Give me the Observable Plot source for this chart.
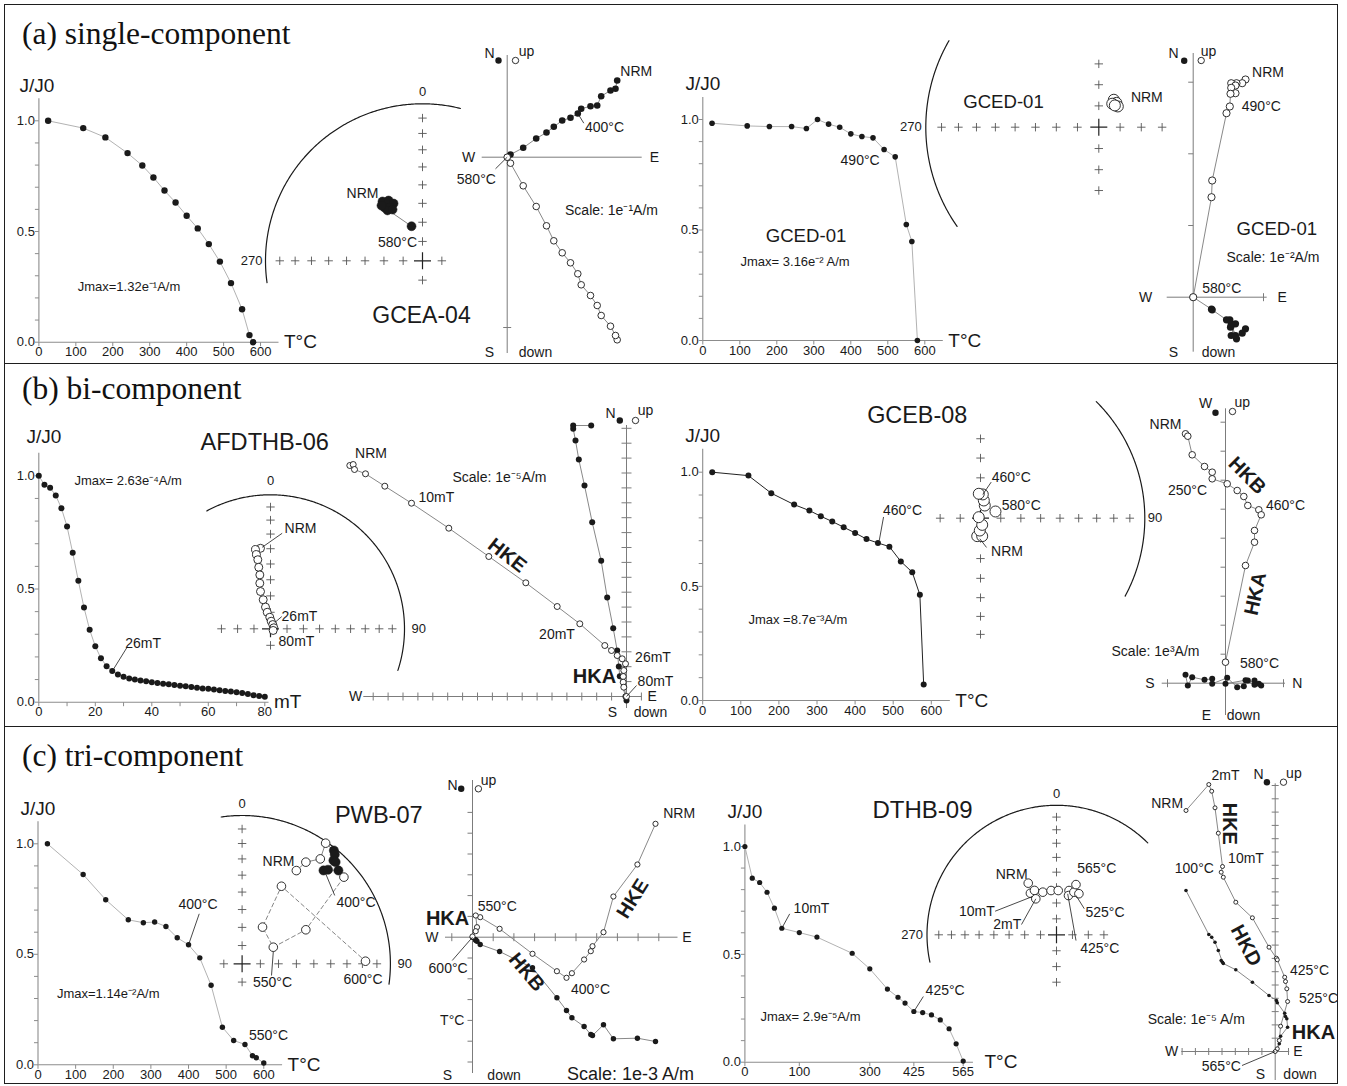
<!DOCTYPE html>
<html>
<head>
<meta charset="utf-8">
<script src="https://cdn.jsdelivr.net/npm/d3@7"></script>
<script src="https://cdn.jsdelivr.net/npm/@observablehq/plot@0.6"></script>
<style>
  html, body { margin: 0; padding: 0; background: #fff; }
  #fig { position: relative; width: 1347px; height: 1086px; overflow: hidden; background: #fff; }
  #fig svg { position: absolute; left: 0; top: 0; background: transparent !important; overflow: visible; max-width: none !important; }
  .box { position: absolute; border: 1.4px solid #1e1e1e; box-sizing: border-box; }
  .rowtitle { position: absolute; left: 22px; font-family: "Liberation Serif", "Times New Roman", serif; font-size: 31.5px; line-height: 1; color: #111; white-space: nowrap; }
</style>
</head>
<body>
<div id="fig">
  <div class="box" style="left:4px;top:4px;width:1334px;height:360px"></div>
  <div class="box" style="left:4px;top:363px;width:1334px;height:364px"></div>
  <div class="box" style="left:4px;top:726px;width:1334px;height:358px"></div>
  <div class="rowtitle" style="top:18px">(a) single-component</div>
  <div class="rowtitle" style="top:373px">(b) bi-component</div>
  <div class="rowtitle" style="top:740px">(c) tri-component</div>
</div>
<script>
// ===================== DATA =====================
// tick labels
const tempTickLabels = [0, 100, 200, 300, 400, 500, 600];
const afTickLabels = [0, 20, 40, 60, 80];
const afTicks = [0, 10, 20, 30, 40, 50, 60, 70, 80];
const jTickLabels = [0, 0.5, 1.0];
const jMinorTicks = [0, 0.1, 0.2, 0.3, 0.4, 0.5, 0.6, 0.7, 0.8, 0.9, 1.0];
const dthb09TickLabels = [0, 100, 300, 425, 565];

// (a) GCEA-04 : thermal demagnetisation
const gcea04Temp = [25, 120, 180, 240, 280, 310, 340, 370, 400, 430, 460, 490, 520, 550, 570, 580];
const gcea04J = [1.0, 0.967, 0.925, 0.854, 0.798, 0.744, 0.685, 0.631, 0.571, 0.514, 0.443, 0.364, 0.267, 0.149, 0.032, 0.0];
const gcea04NetDec = [326.0, 330.6, 333.2, 324.5, 329.0, 325.2, 329.7, 323.4, 342.4];
const gcea04NetInc = [52.4, 53.7, 56.4, 55.7, 57.5, 57.9, 59.0, 53.9, 71.2];
// orthogonal-projection components (plot units)
const gcea04E = [110, 108.3, 103.3, 94, 90, 83.3, 74, 70.6, 63.3, 55, 46.6, 39.3, 29, 16, 3.3, 0];
const gcea04N = [76.7, 68.4, 66.7, 61, 51.7, 51, 48.4, 43.7, 39.4, 36.7, 30.4, 24.7, 18.7, 9.4, 2.7, 0];
const gcea04Up = [-182.6, -178.3, -169, -158.3, -148.3, -138.3, -127.6, -116.6, -105.6, -95.6, -83.6, -68.6, -49.3, -28.6, -6, 0];

// (a) GCED-01
const gced01Temp = [25, 120, 180, 240, 280, 310, 340, 370, 400, 430, 460, 490, 520, 550, 565, 580];
const gced01J = [0.983, 0.971, 0.968, 0.968, 0.959, 1.0, 0.979, 0.965, 0.935, 0.923, 0.917, 0.864, 0.831, 0.525, 0.448, 0.0];
const gced01NetDec = [28.7, 35.9, 29.8, 42.5, 36.4];
const gced01NetInc = [-75.3, -75.9, -77.3, -76.8, -77.3];
const gced01E = [52.3, 49, 43.3, 38, 42.3, 38, 42.3, 37.3, 36.6, 33.3, 19, 18.3, 0];
const gced01Up = [217.7, 214, 214, 214, 211.7, 209.4, 204, 203.4, 190.7, 184, 116.7, 100, 0];
const gced01N = [-31.6, -36, -41.6, -38.3, -26.6, -26.6, -38.3, -30, -22.6, -22.6, -12.6, -12, 0];

// (b) AFDTHB-06 : AF demagnetisation
const afdthb06Field = [0, 2, 4, 6, 8, 10, 12, 14, 16, 18, 20, 22, 24, 26, 28, 30, 32, 34, 36, 38, 40, 42, 44, 46, 48, 50, 52, 54, 56, 58, 60, 62, 64, 66, 68, 70, 72, 74, 76, 78, 80];
const afdthb06J = [1.0, 0.96, 0.947, 0.913, 0.857, 0.776, 0.66, 0.536, 0.418, 0.32, 0.247, 0.194, 0.159, 0.138, 0.122, 0.112, 0.105, 0.1, 0.096, 0.092, 0.088, 0.085, 0.082, 0.079, 0.076, 0.073, 0.07, 0.067, 0.064, 0.061, 0.059, 0.056, 0.053, 0.05, 0.047, 0.044, 0.041, 0.036, 0.031, 0.027, 0.024];
const afdthb06NetDec = [352.9, 349.3, 349.3, 349.6, 349.2, 348.8, 346.8, 345, 345.9, 347, 348.8, 356.5, 5.3, 28, 73, 122];
const afdthb06NetInc = [-39.3, -39.6, -43.0, -46.5, -51.4, -56.3, -61.4, -66.5, -71.8, -76.5, -79.8, -83.0, -85.4, -87.1, -87.9, -88.1];
const afdthb06HorE = [-35.3, -53.3, -53.3, -51, -47.7, -42, -34.3, -25.3, -19.3, -13.3, -9.3, -7.7, -6.7, -1, 0];
const afdthb06HorN = [271, 271, 267.7, 256, 237, 211, 174.3, 135.7, 99, 68.3, 46, 30, 20.3, 0, -4];
const afdthb06VerH = [-276.7, -273.3, -272, -261, -241.7, -215, -177.7, -137.7, -100.7, -69.3, -46.7, -21.7, -15, -9.3, -4.3, -1, -2.7, -3.3, -3.3, -2.7, 0];
const afdthb06VerUp = [231, 232, 227, 222.7, 210.3, 193.3, 168.3, 140, 113.7, 90, 72.7, 51, 46, 41, 37.7, 32.7, 26, 20, 14.3, 9.3, 0];

// (b) GCEB-08
const gceb08Temp = [25, 120, 180, 240, 280, 310, 340, 370, 400, 430, 460, 490, 520, 550, 570, 580];
const gceb08J = [1.0, 0.985, 0.908, 0.858, 0.832, 0.807, 0.784, 0.759, 0.734, 0.707, 0.69, 0.674, 0.609, 0.562, 0.463, 0.07];
const gceb08NetDec = [190.4, 174.6, 183.3, 165.6, 300, 18.7, 10.6, 5.5, 356, 65.9];
const gceb08NetInc = [-81.0, -81.1, -83.9, -86.6, -89.0, -83.4, -81.1, -78.2, -77.9, -81.9];
const gceb08N = [-40, -37.7, -33.3, -21, -13.3, -13.3, 1.7, 11.7, 18.3, 22.3, 33.3, 35.7, 29, 29, 20, 0];
const gceb08Up = [249.4, 247, 228.4, 216.7, 211, 204.4, 199.4, 192.7, 186.7, 177.7, 173.4, 168.4, 152.7, 141, 117.7, 21];
const gceb08W = [8.4, -2.3, 6, 3.4, 4.4, -0.6, 5.4, -4, -3, 2.7, -0.6, -2.3, 2.7, -1.5, 3, -0.6];

// (c) PWB-07
const pwb07Temp = [25, 120, 180, 240, 280, 310, 340, 370, 400, 430, 460, 490, 520, 550, 570, 580, 600];
const pwb07J = [1.0, 0.861, 0.747, 0.656, 0.643, 0.646, 0.626, 0.575, 0.543, 0.484, 0.360, 0.170, 0.110, 0.092, 0.041, 0.032, 0.008];
const pwb07NetDec = [30.2, 32.1, 36.7, 34.7, 39, 40.3, 41.5, 42.6, 41.1, 42.4, 45.9, 49.6, 61.9, 62, 29.1, 26.9, 88.8];
const pwb07NetInc = [-28.1, -20.2, -12.8, -1.2, 1.9, 3.8, 7.8, 7.6, 17.6, 15.2, 10.5, -10.8, -49.7, -70.6, -66.9, -41.0, -17.9];
const pwb07E = [183, 164.9, 140.9, 131, 120, 118.3, 111.6, 99.4, 94, 84.4, 60, 27.1, 7.7, 3.2, 4.5, 3.2, 0];
const pwb07Up = [113.4, 72.7, 40.7, 5, -9, -14, -22.3, -36, -40.6, -34, -16.6, 8.4, 20, 21.7, 10, 6, 0.7];
const pwb07N = [-104.3, -101, -101.6, -87.6, -98.3, -97.3, -89.3, -80.6, -73.3, -60.6, -30.6, -14.3, -7.3, -2.6, -4, -3, 0];

// (c) DTHB-09 : AF (mT) then thermal (°C) steps
const dthb09Step = [0, 2, 4, 6, 8, 10, 100, 150, 250, 300, 350, 380, 400, 425, 450, 475, 500, 525, 545, 565];
const dthb09J = [1.0, 0.853, 0.833, 0.788, 0.714, 0.621, 0.601, 0.580, 0.505, 0.433, 0.339, 0.301, 0.274, 0.235, 0.230, 0.219, 0.196, 0.155, 0.085, 0.005];
const dthb09NetDec = [331.3, 327.9, 333.6, 330.1, 342.2, 353, 2.2, 15.8, 17, 22.2, 28.6, 21.2];
const dthb09NetInc = [-52.5, -58.9, -58.6, -63.8, -61.7, -61.8, -62, -60.9, -64.1, -60.9, -60.4, -55.8];
const dthb09X = [-89.2, -66.4, -63.5, -60.2, -56.9, -52.7, -54, -51.9, -39.4, -22.8, -6.2, 1.2, 2.1, 9.5, 10.3, 11.6, 12.4, 5.4, 4.1, 2.1, 0];
const dthb09Up = [241, 267, 260.3, 243.7, 218.3, 185, 179.3, 174.3, 149.3, 133.7, 104.3, 93.3, 91.7, 74.3, 70, 62.7, 50, 25.3, 11, 2.7, 0];
const dthb09N = [161, 117, 114.3, 109.3, 101, 89.3, 91, 88, 81.7, 69.3, 56, 51, 48.7, 38.3, 35, 32.7, 24.3, 15.3, 7.7, 2.7, 0];

// ===================== HELPERS =====================
const W = 1347, H = 1086;
const INK = "#1a1a1a", AX = "#8c8c8c", AXZ = "#7c7c7c", LINE = "#a9a9a9", ZLINE = "#7a7a7a";
const FONT = "'Liberation Sans', Arial, Helvetica, sans-serif";
const fig = document.getElementById("fig");

function seg(x1, y1, x2, y2) { return {draw(ctx, size) { const l = Math.sqrt(size / Math.PI); ctx.moveTo(x1 * l, y1 * l); ctx.lineTo(x2 * l, y2 * l); }}; }
const symTickL = seg(-1, 0, 0, 0), symTickD = seg(0, 0, 0, 1), symH = seg(-1, 0, 1, 0), symV = seg(0, -1, 0, 1);
const symPlus = {draw(ctx, size) { const l = Math.sqrt(size / Math.PI); ctx.moveTo(-l, 0); ctx.lineTo(l, 0); ctx.moveTo(0, -l); ctx.lineTo(0, l); }};

function panel(xd, xr, yd, yr) {
  return {X: d3.scaleLinear(xd, xr), Y: d3.scaleLinear(yd, yr),
    x: {type: "linear", domain: xd, range: xr, axis: null},
    y: {type: "linear", domain: yd, range: yr, axis: null}};
}
function render(p, marks) {
  const svg = Plot.plot({width: W, height: H, margin: 0, x: p.x, y: p.y,
    style: {background: "transparent", overflow: "visible", fontFamily: FONT}, marks});
  fig.appendChild(svg);
}
function txt(x, y, t, o = {}) { return Plot.text([t], {x, y, text: d => d, fontSize: 14, fill: INK, ...o}); }
function lead(p, x, y, a, b) {
  const X = p.X, Y = p.Y;
  return Plot.link([0], {x1: X.invert(X(x) + a[0]), y1: Y.invert(Y(y) + a[1]), x2: X.invert(X(x) + b[0]), y2: Y.invert(Y(y) + b[1]), stroke: INK, strokeWidth: 0.8});
}
const BOLD = {fontWeight: "bold", fontSize: 20};

// ---- intensity decay plot ----
function demag(c) {
  const p = c.p, rows = c.xs.map((x, i) => ({x, y: c.ys[i]}));
  const marks = [
    Plot.ruleY([0], {x1: 0, x2: c.xEnd, stroke: AX, strokeWidth: 1.1}),
    Plot.ruleX([0], {y1: 0, y2: 1.1, stroke: AX, strokeWidth: 1.1}),
    Plot.dot(jMinorTicks, {x: 0, y: d => d, symbol: symTickL, r: 4, fill: "none", stroke: AX, strokeWidth: 1}),
    Plot.dot(c.xTicks, {x: d => d, y: 0, symbol: symTickD, r: 4, fill: "none", stroke: AX, strokeWidth: 1}),
    Plot.text(jTickLabels, {x: 0, y: d => d, text: d => d.toFixed(1), dx: -4, textAnchor: "end", fontSize: 13, fill: INK}),
    Plot.text(c.xLabels, {x: d => d, y: 0, text: d => String(d), dy: 10, fontSize: 13, fill: INK}),
    Plot.line(rows, {x: "x", y: "y", stroke: c.line, strokeWidth: c.lw ?? 0.9}),
    Plot.dot(rows, {x: "x", y: "y", r: c.r, fill: INK, stroke: "none"}),
    txt(0, 1.1, "J/J0", {dy: c.jdy ?? -13, dx: c.jdx ?? 0, fontSize: 19}),
    txt(c.xEnd, 0, c.unit, {dx: c.udx ?? 5, textAnchor: "start", fontSize: 19})
  ];
  render(p, marks.concat(c.extra ? c.extra(p) : []));
}

// ---- equal-area stereonet ----
function ea(dec, inc) {
  const r = Math.SQRT2 * Math.sin((90 - Math.abs(inc)) * Math.PI / 360), a = dec * Math.PI / 180;
  return {x: r * Math.sin(a), y: r * Math.cos(a)};
}
function net(c) {
  const p = panel([-1, 1], [c.cx - c.R, c.cx + c.R], [-1, 1], [c.cy + c.R, c.cy - c.R]);
  const arc = d3.range(c.arc[0], c.arc[1] + 0.001, 0.5).map(a => ea(a, 0));
  const crosses = [];
  [0, 90, 180, 270].forEach((az, j) => { for (let k = 1; k <= c.arms[j]; k++) crosses.push(ea(az, 90 - 10 * k)); });
  const pts = c.dec.map((d, i) => ({...ea(d, c.inc[i]), down: c.inc[i] >= 0}));
  const marks = [
    Plot.line(arc, {x: "x", y: "y", stroke: INK, strokeWidth: 1.2}),
    Plot.dot(crosses, {x: "x", y: "y", symbol: symPlus, r: 4.2, fill: "none", stroke: "#555", strokeWidth: 0.9}),
    Plot.dot([{x: 0, y: 0}], {x: "x", y: "y", symbol: symPlus, r: 8.5, fill: "none", stroke: "#222", strokeWidth: 1.2})
  ];
  (c.paths || []).forEach(([a, b, dash]) => {
    const o = {x: "x", y: "y", stroke: "#777", strokeWidth: 0.9};
    if (dash) o.strokeDasharray = "4,3";
    marks.push(Plot.line(pts.slice(a, b + 1), o));
  });
  marks.push(Plot.dot(pts.filter(d => d.down), {x: "x", y: "y", r: c.rf ?? c.r, fill: INK, stroke: INK, strokeWidth: 0.5}));
  marks.push(Plot.dot(pts.filter(d => !d.down), {x: "x", y: "y", r: c.r, fill: "white", stroke: INK, strokeWidth: 0.9}));
  if (c.n0 !== undefined) marks.push(txt(0, 1, "0", {dy: c.n0, fontSize: 13}));
  if (c.w270 !== undefined) marks.push(txt(-1, 0, "270", {dx: c.w270, textAnchor: "end", fontSize: 13}));
  if (c.e90 !== undefined) marks.push(txt(1, 0, "90", {dx: c.e90, textAnchor: "start", fontSize: 13}));
  (c.labels || []).forEach(l => {
    const q = pts[l.i];
    marks.push(txt(q.x, q.y, l.t, {dx: l.dx, dy: l.dy, textAnchor: l.anchor || "middle", fontSize: 14}));
    if (l.lead) marks.push(lead(p, q.x, q.y, l.lead[0], l.lead[1]));
  });
  render(p, marks.concat(c.extra ? c.extra(p) : []));
}

// ---- orthogonal (Zijderveld) projection ----
function zij(c) {
  const p = panel([0, 1], [c.ox, c.ox + 1], [0, 1], [c.oy, c.oy - 1]);
  const hor = c.hx.map((x, i) => ({x, y: c.hy[i]}));
  const ver = c.vx.map((x, i) => ({x, y: c.vy[i]}));
  const marks = [
    Plot.ruleY([0], {x1: c.xr[0], x2: c.xr[1], stroke: AXZ, strokeWidth: 1}),
    Plot.ruleX([0], {y1: c.yr[0], y2: c.yr[1], stroke: AXZ, strokeWidth: 1}),
    Plot.dot(c.xt, {x: d => d, y: 0, symbol: symV, r: c.xtl ?? 4, fill: "none", stroke: AXZ, strokeWidth: 1}),
    Plot.dot(c.yt, {x: 0, y: d => d, symbol: c.ytLeft ? symTickL : symH, r: c.ytl ?? 4, fill: "none", stroke: AXZ, strokeWidth: 1}),
    Plot.line(ver, {x: "x", y: "y", stroke: ZLINE, strokeWidth: 0.9}),
    Plot.line(hor, {x: "x", y: "y", stroke: ZLINE, strokeWidth: 0.9}),
    Plot.dot(hor, {x: "x", y: "y", r: c.rh, fill: INK, stroke: "none"}),
    Plot.dot(ver, {x: "x", y: "y", r: c.rv, fill: "white", stroke: INK, strokeWidth: 0.9}),
    Plot.dot([0], {x: c.legend.f[0], y: c.legend.f[1], r: c.rl ?? 3.2, fill: INK, stroke: "none"}),
    Plot.dot([0], {x: c.legend.o[0], y: c.legend.o[1], r: c.rl ?? 3.2, fill: "white", stroke: INK, strokeWidth: 0.9})
  ];
  c.compass.forEach(([t, x, y]) => marks.push(txt(x, y, t, {fontSize: 14})));
  (c.labels || []).forEach(([t, x, y, o]) => marks.push(txt(x, y, t, {fontSize: 14, ...(o || {})})));
  (c.leads || []).forEach(([x1, y1, x2, y2]) => marks.push(Plot.link([0], {x1, y1, x2, y2, stroke: INK, strokeWidth: 0.8})));
  render(p, marks);
}
const steps = (step, n, sign = 1) => d3.range(1, n + 1).map(k => sign * k * step);

// ===================== ROW (a) =====================
demag({p: panel([0, 650], [38.4, 38.4 + 650 * 0.3694], [0, 1.1], [341.7, 341.7 - 1.1 * 221.4]),
  xs: gcea04Temp, ys: gcea04J, xEnd: 650, unit: "T°C", xTicks: tempTickLabels, xLabels: tempTickLabels, line: LINE, r: 3.2, jdx: -2,
  extra: p => [txt(105, 0.248, "Jmax=1.32e⁻¹A/m", {textAnchor: "start", fontSize: 13})]});

net({cx: 422, cy: 260.3, R: 157, arc: [262, 374], arms: [8, 1, 1, 8], dec: gcea04NetDec, inc: gcea04NetInc, r: 4.5, rf: 4.5,
  paths: [[0, 8, false]], n0: -12, w270: -3,
  labels: [{i: 0, t: "NRM", dx: -4, dy: -8, anchor: "end"}, {i: 8, t: "580°C", dx: -14, dy: 16}],
  extra: p => [txt(0, 0, "GCEA-04", {dx: -1, dy: 55, fontSize: 23})]});

zij({ox: 506.7, oy: 156.7, hx: gcea04E, hy: gcea04N, vx: gcea04E, vy: gcea04Up, xr: [-25, 135], yr: [-196.3, 101.7],
  xt: [], yt: [-170.3], rh: 3.3, rv: 3.3,
  compass: [["N", -17.7, 103.7], ["up", 19.3, 105.7], ["W", -38.7, 0], ["E", 147.3, 0], ["S", -17.7, -195.3], ["down", 28.3, -195.3]],
  legend: {f: [-8.7, 96.7], o: [8.3, 96.7]},
  labels: [["NRM", 129.1, 86], ["400°C", 97.3, 29.4], ["580°C", -30.9, -22.6], ["Scale: 1e⁻¹A/m", 104.3, -53.3]],
  leads: [[70.6, 43.7, 76.6, 34], [0, 0, -11.7, -11.6]]});

demag({p: panel([0, 650], [702.3, 702.3 + 650 * 0.370], [0, 1.1], [340, 340 - 1.1 * 221]),
  xs: gced01Temp, ys: gced01J, xEnd: 650, unit: "T°C", xTicks: tempTickLabels, xLabels: tempTickLabels, line: LINE, r: 2.8,
  extra: p => [txt(gced01Temp[11], gced01J[11], "490°C", {dx: -24, dy: 11}),
    txt(279, 0.474, "GCED-01", {fontSize: 18.6}),
    txt(102, 0.354, "Jmax= 3.16e⁻² A/m", {textAnchor: "start", fontSize: 13})]});

net({cx: 1098.3, cy: 126.7, R: 173, arc: [235, 300], arms: [3, 3, 3, 8], dec: gced01NetDec, inc: gced01NetInc, r: 5.5,
  w270: -4, labels: [{i: 0, t: "NRM", dx: 33, dy: -2}],
  extra: p => [txt(0, 0, "GCED-01", {dx: -95.3, dy: -25, fontSize: 18.6})]});

zij({ox: 1192.7, oy: 296.7, hx: gced01E, hy: gced01N, vx: gced01E, vy: gced01Up, xr: [-26, 74], yr: [-55, 243.7],
  xt: [70.3], yt: [71.7, 143.4, 215], ytLeft: true, ytl: 5, rh: 3.6, rv: 3.6,
  compass: [["N", -19.7, 243.7], ["up", 15.3, 245.7], ["W", -47.7, 0], ["E", 89, 0], ["S", -19.7, -55.3], ["down", 25.3, -55.3]],
  legend: {f: [-9, 236.4], o: [8, 236.7]},
  labels: [["NRM", 74.8, 225], ["490°C", 68.1, 190.7], ["580°C", 28.5, 8.4], ["GCED-01", 83.6, 68.4, {fontSize: 18.6}], ["Scale: 1e⁻²A/m", 79.8, 40]]});

// ===================== ROW (b) =====================
demag({p: panel([0, 85], [38.3, 38.3 + 85 * 2.825], [0, 1.1], [701.7, 701.7 - 1.1 * 226.4]),
  xs: afdthb06Field, ys: afdthb06J, xEnd: 81.5, unit: "mT", xTicks: afTicks, xLabels: afTickLabels, line: LINE, r: 3, jdx: 5, jdy: -16,
  extra: p => [txt(26, 0.138, "26mT", {dx: 13, dy: -27.5, textAnchor: "start"}), lead(p, 26, 0.138, [1.5, -2.2], [14.9, -23.8]),
    txt(12.6, 0.979, "Jmax= 2.63e⁻⁴A/m", {textAnchor: "start", fontSize: 13})]});

net({cx: 270, cy: 628.3, R: 134, arc: [331.6, 468.5], arms: [8, 8, 1, 3], dec: afdthb06NetDec, inc: afdthb06NetInc, r: 4,
  n0: -14, e90: 7,
  labels: [{i: 0, t: "NRM", dx: 40, dy: -19.4, lead: [[1.7, -1], [21.7, -15]]},
    {i: 13, t: "26mT", dx: 26.7, dy: -8, lead: [[2, -2], [9, -8]]}, {i: 15, t: "80mT", dx: 23.3, dy: 11}],
  extra: p => [txt(0, 0, "AFDTHB-06", {dx: -5.8, dy: -186.6, fontSize: 23.6})]});

zij({ox: 626, oy: 696, hx: afdthb06HorE, hy: afdthb06HorN, vx: afdthb06VerH, vy: afdthb06VerUp, xr: [-262.7, 15.7], yr: [-12, 271],
  xt: steps(14.9, 17, -1).concat([14.9]), yt: steps(14.9, 18), xtl: 4, ytl: 5, rh: 3, rv: 3,
  compass: [["N", -16, 283.3], ["up", 19, 286], ["W", -271, 0], ["E", 25.7, 0], ["S", -14, -16], ["down", 24, -16]],
  legend: {f: [-6.7, 276], o: [9, 276]},
  labels: [["NRM", -255.5, 243], ["10mT", -190.2, 199.3], ["20mT", -69.5, 61.7], ["26mT", 26.5, 39.3], ["80mT", 29, 15.3],
    ["HKE", -119.3, 141, {rotate: 38, ...BOLD}], ["HKA", -32, 20, BOLD], ["Scale: 1e⁻⁵A/m", -127, 218.7]],
  leads: [[0, 0, 10, 11]]});

demag({p: panel([0, 650], [702.2, 702.2 + 650 * 0.381], [0, 1.1], [700, 700 - 1.1 * 228.3]),
  xs: gceb08Temp, ys: gceb08J, xEnd: 650, unit: "T°C", xTicks: tempTickLabels, xLabels: tempTickLabels, line: "#222", lw: 1, r: 3,
  extra: p => [txt(460, 0.69, "460°C", {dx: 5, dy: -32, textAnchor: "start"}), lead(p, 460, 0.69, [1.3, -2.5], [5.6, -26]),
    txt(120, 0.353, "Jmax =8.7e⁻³A/m", {textAnchor: "start", fontSize: 13}),
    txt(563, 1.248, "GCEB-08", {fontSize: 23.4})]});

net({cx: 980, cy: 517.7, R: 164.3, arc: [44.8, 118.4], arms: [4, 8, 6, 2], dec: gceb08NetDec, inc: gceb08NetInc, r: 5.5,
  e90: 3,
  labels: [{i: 7, t: "460°C", dx: 28.5, dy: -16.7, lead: [[0, 0], [8.4, -12.3]]}, {i: 9, t: "580°C", dx: 25.8, dy: -6},
    {i: 0, t: "NRM", dx: 29.8, dy: 15.3, lead: [[2.6, 2.6], [9.3, 11.3]]}]});

zij({ox: 1225, oy: 682.7, hx: gceb08N, hy: gceb08W, vx: gceb08N, vy: gceb08Up, xr: [-63.3, 60], yr: [-32.3, 274.4],
  xt: [-58, 58], yt: steps(29, 9), ytLeft: true, ytl: 5, rh: 3, rv: 3.3,
  compass: [["W", -20, 279.4], ["up", 16.7, 280.7], ["S", -75.7, 0], ["N", 71.7, 0], ["E", -19, -32.3], ["down", 18, -32.3]],
  legend: {f: [-10, 270.4], o: [7, 271.7]},
  labels: [["NRM", -60, 258.4], ["250°C", -38, 192.7], ["460°C", 60, 177.7], ["580°C", 34, 20],
    ["HKB", 21.7, 207.7, {rotate: 45, ...BOLD}], ["HKA", 30, 89.4, {rotate: -78, ...BOLD}], ["Scale: 1e³A/m", -70, 31.7]]});

// ===================== ROW (c) =====================
demag({p: panel([0, 650], [37.5, 37.5 + 650 * 0.3763], [0, 1.1], [1064.3, 1064.3 - 1.1 * 221]),
  xs: pwb07Temp, ys: pwb07J, xEnd: 650, unit: "T°C", xTicks: tempTickLabels, xLabels: tempTickLabels, line: LINE, r: 2.7,
  extra: p => [txt(400, 0.543, "400°C", {dx: 9.5, dy: -40}), lead(p, 400, 0.543, [0, 0], [10.7, -31]),
    txt(550, 0.092, "550°C", {dx: 4, dy: -9, textAnchor: "start"}),
    txt(50.2, 0.321, "Jmax=1.14e⁻²A/m", {textAnchor: "start", fontSize: 13})]});

net({cx: 241.6, cy: 963.3, R: 148.3, arc: [351.9, 458.3], arms: [8, 8, 1, 1], dec: pwb07NetDec, inc: pwb07NetInc, r: 4.3, rf: 4.6,
  n0: -12, e90: 7, paths: [[0, 11, false], [11, 16, true]],
  labels: [{i: 0, t: "NRM", dx: -17.8, dy: -9}, {i: 8, t: "400°C", dx: 32.5, dy: 31.7, lead: [[2.2, 3.3], [11.2, 25]]},
    {i: 13, t: "550°C", dx: -0.8, dy: 35.6, lead: [[0, 4.5], [-1.8, 28.3]]}, {i: 16, t: "600°C", dx: -2.5, dy: 18.3}],
  extra: p => [txt(0, 0, "PWB-07", {dx: 136.7, dy: -148.3, fontSize: 23.6})]});

zij({ox: 472, oy: 936.7, hx: pwb07E, hy: pwb07N, vx: pwb07E, vy: pwb07Up, xr: [-27, 205.5], yr: [-136.3, 156.7],
  xt: [-20.7].concat(steps(20.7, 9)), yt: steps(20.8, 6).concat(steps(20.8, 6, -1)), ytLeft: true, ytl: 5, rh: 2.7, rv: 2.6,
  compass: [["N", -20, 152], ["up", 16, 157], ["W", -40.7, 0], ["E", 214.5, 0], ["S", -25, -138.3], ["down", 31.6, -138.3]],
  legend: {f: [-11.3, 148.4], o: [5.9, 148.4]},
  labels: [["NRM", 206.6, 123.4], ["550°C", 24.7, 30.7], ["400°C", 118, -52], ["600°C", -24.4, -31.6],
    ["HKA", -24.9, 18.4, BOLD], ["HKE", 160.3, 38.4, {rotate: -58, ...BOLD}], ["HKB", 54.2, -35, {rotate: 50, ...BOLD}],
    ["T°C", -20.3, -83.3], ["Scale: 1e-3 A/m", 158, -137.3, {fontSize: 18}]],
  leads: [[0, 0, -20.3, -23.3]]});

demag({p: panel([0, 10, 100, 565], [744.4, 781.3, 798.8, 962.7], [0, 1.1], [1061.7, 1061.7 - 1.1 * 215.7]),
  xs: dthb09Step, ys: dthb09J, xEnd: 594, unit: "T°C", udx: 11, xTicks: dthb09TickLabels, xLabels: dthb09TickLabels, line: LINE, r: 2.6,
  extra: p => [txt(10, 0.621, "10mT", {dx: 29.7, dy: -20}), lead(p, 10, 0.621, [0, 0], [7.9, -14.4]),
    txt(425, 0.235, "425°C", {dx: 31.3, dy: -21}), lead(p, 425, 0.235, [0, 0], [9.5, -15]),
    txt(4.2, 0.209, "Jmax= 2.9e⁻⁵A/m", {textAnchor: "start", fontSize: 13}),
    txt(449.5, 1.167, "DTHB-09", {fontSize: 24})]});

net({cx: 1056, cy: 934.3, R: 129.5, arc: [257.8, 405.2], arms: [8, 3, 3, 8], dec: dthb09NetDec, inc: dthb09NetInc, r: 4.3,
  n0: -11.5, w270: -4,
  labels: [{i: 0, t: "NRM", dx: -16.6, dy: -8.4}, {i: 11, t: "565°C", dx: 20.8, dy: -15.7},
    {i: 1, t: "10mT", dx: -53.6, dy: 18, lead: [[2.1, 3.3], [-35.3, 18]]},
    {i: 3, t: "2mT", dx: -28.6, dy: 25.7, lead: [[0, 0], [-14.3, 25.7]]},
    {i: 10, t: "525°C", dx: 26.1, dy: 18.4, lead: [[-2.9, 1.7], [5.4, 15]]},
    {i: 8, t: "425°C", dx: 31.2, dy: 53.3, lead: [[-0.8, -1.7], [7.5, 45]]}]});

zij({ox: 1274.7, oy: 1051, hx: dthb09X, hy: dthb09N, vx: dthb09X, vy: dthb09Up, xr: [-93.4, 14.5], yr: [-29, 267.7],
  xt: steps(13.3, 7, -1).concat([13.3]), yt: steps(13.3, 20), xtl: 3.5, ytl: 3.5, rh: 1.8, rv: 2,
  compass: [["N", -16.7, 277], ["up", 18.7, 278.3], ["W", -103.7, 0], ["E", 22.8, 0], ["S", -14.7, -23], ["down", 24.9, -23]],
  legend: {f: [-8.3, 269.3], o: [8.3, 269.3]},
  labels: [["2mT", -49.7, 276], ["NRM", -108, 247.7], ["10mT", -29.2, 192.7], ["100°C", -80.9, 182.7], ["425°C", 34.3, 81],
    ["525°C", 43.3, 52.7], ["565°C", -53.9, -15], ["HKE", -45.7, 227.7, {rotate: 90, ...BOLD}], ["HKD", -29.1, 106, {rotate: 62, ...BOLD}],
    ["HKA", 38.3, 19.3, BOLD], ["Scale: 1e⁻⁵ A/m", -78.9, 31.7]],
  leads: [[0, 0, -33.2, -14]]});
</script>
</body>
</html>
